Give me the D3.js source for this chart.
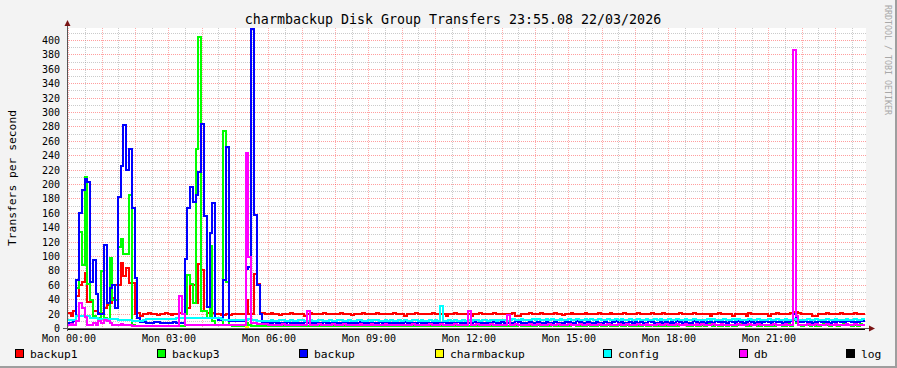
<!DOCTYPE html>
<html><head><meta charset="utf-8">
<script src="https://cdn.jsdelivr.net/npm/d3@7"></script>
<style>
html,body{margin:0;padding:0;background:#f3f3f3;}
svg{display:block;}
text{font-family:"DejaVu Sans Mono",monospace;}
</style></head><body>
<svg id="chart" width="897" height="368"></svg>
<script>
// ---------- data ----------
const title = "charmbackup Disk Group Transfers 23:55.08 22/03/2026";
const yAxisTitle = "Transfers per second";
const watermark = "RRDTOOL / TOBI OETIKER";
const seriesNames = ["backup1","backup3","backup","charmbackup","config","db","log"];
const yTickValues = [0,20,40,60,80,100,120,140,160,180,200,220,240,260,280,300,320,340,360,380,400];
const xTickHours = [0,3,6,9,12,15,18,21];
const xTickLabels = ["Mon 00:00","Mon 03:00","Mon 06:00","Mon 09:00","Mon 12:00","Mon 15:00","Mon 18:00","Mon 21:00"];
const stepMinutes = 5;          // one sample per 5 minutes
const firstSampleMinute = -2;   // first sample starts just before 00:00

const backup1 = [
 21,18,24,45,60,64,77,37,37,25,24,21,
 22,28,32,36,42,60,60,91,73,84,63,63,
 20,21,18,20,20,21,20,20,19,20,20,21,
 20,19,20,20,21,20,20,28,60,60,35,89,
 81,25,22,21,22,20,20,19,19,20,19,20,
 20,20,20,20,40,20,20,76,62,22,21,20,
 20,21,20,20,19,20,20,20,21,20,20,20,
 20,17,20,21,20,20,20,20,21,20,20,20,
 20,20,21,20,20,20,19,20,20,20,21,20,
 20,20,20,21,20,20,20,20,20,21,20,20,
 20,17,20,20,20,21,20,20,20,20,20,21,
 20,20,20,20,17,20,20,21,20,20,20,20,
 20,17,20,20,21,20,20,20,20,21,20,20,
 20,20,20,20,21,17,18,20,20,20,21,20,
 20,20,21,20,20,20,20,21,20,20,19,20,
 20,21,20,20,20,20,21,20,20,20,20,21,
 20,20,20,21,20,20,20,20,21,20,20,20,
 20,21,20,20,20,20,21,20,20,20,21,20,
 20,20,20,20,21,20,20,20,20,21,20,20,
 20,20,20,17,20,20,21,20,20,20,20,17,
 20,20,20,20,17,21,20,20,20,20,20,20,
 17,20,20,21,20,20,20,20,22,23,23,21,
 20,20,20,20,17,18,20,20,20,21,20,20,
 20,20,21,20,20,20,20,21,20,20,20
];
const backup3 = [
 5,5,5,56,134,88,211,62,40,17,15,15,
 80,15,12,98,40,40,113,124,103,103,185,5,
 4,3,3,3,4,3,3,3,3,3,4,3,
 3,3,3,3,4,3,20,74,62,36,250,405,
 25,25,15,114,10,5,5,5,275,65,5,4,
 4,3,3,3,8,5,4,3,3,3,3,3,
 3,3,4,3,3,3,3,4,3,3,3,3,
 3,4,3,3,3,3,3,3,4,3,3,3,
 3,3,3,3,4,3,3,3,3,3,4,3,
 3,3,4,3,3,3,3,3,3,4,3,3,
 3,3,3,3,3,4,3,3,3,3,3,4,
 3,3,4,3,3,3,3,3,4,3,3,3,
 3,3,3,3,4,3,3,3,3,3,3,4,
 3,4,3,3,3,3,5,4,3,3,3,3,
 4,5,4,3,3,4,5,4,3,4,3,4,
 4,5,5,4,3,4,4,5,4,3,4,5,
 4,4,5,4,3,4,5,4,4,5,4,4,
 5,4,4,5,4,4,5,4,4,5,4,4,
 4,5,4,4,5,6,5,4,4,5,4,4,
 5,4,6,6,4,5,4,4,5,4,5,4,
 4,5,6,5,4,4,5,6,4,4,5,4,
 4,5,4,5,5,4,4,6,4,12,7,5,
 4,5,5,4,5,4,4,5,6,5,4,5,
 5,4,5,6,6,5,4,5,4,6,5
];
const backup = [
 8,8,10,68,160,192,208,204,65,95,48,20,
 20,116,36,56,60,28,183,226,282,220,249,167,
 70,15,9,9,8,8,8,9,9,8,8,8,
 8,8,9,8,8,8,97,167,196,176,185,218,
 284,156,30,132,175,15,12,12,67,252,10,10,
 10,10,10,10,82,86,416,157,60,20,8,8,
 8,8,9,8,8,8,8,9,8,8,8,8,
 8,9,8,8,8,8,8,8,9,8,8,8,
 8,8,8,9,8,8,8,8,8,9,8,8,
 8,8,8,8,9,8,8,8,8,8,9,8,
 8,9,8,8,8,8,9,8,8,8,8,8,
 8,8,8,9,8,8,8,8,9,8,8,8,
 8,8,9,8,8,8,8,8,8,9,8,8,
 9,8,8,8,8,10,9,8,8,8,9,8,
 8,9,8,8,9,8,8,9,8,8,8,9,
 9,8,8,10,9,8,8,9,8,8,9,8,
 8,9,8,8,9,10,8,9,8,8,9,8,
 9,8,9,8,8,10,9,8,8,9,8,9,
 8,9,8,10,9,8,9,8,8,10,9,8,
 9,8,9,9,8,10,9,8,9,8,10,9,
 8,10,9,8,9,11,9,8,9,8,9,10,
 9,8,11,9,9,8,10,9,10,20,10,9,
 9,10,9,9,8,9,10,9,9,9,8,9,
 9,10,9,9,11,10,9,9,9,11,10
];
const charmbackup = [
 0,0,0,0,0,0,0,0,0,0,0,0,
 0,0,0,0,0,0,0,0,0,0,0,0,
 0,0,0,0,0,0,0,0,0,0,0,0,
 0,0,0,0,0,0,0,0,0,0,0,0,
 0,0,0,0,0,0,0,0,0,0,0,0,
 0,0,0,0,2,0,0,0,0,0,0,0,
 0,0,0,0,0,0,0,0,0,0,0,0,
 0,0,0,0,0,0,0,0,0,0,0,0,
 0,0,0,0,0,0,0,0,0,0,0,0,
 0,0,0,0,0,0,0,0,0,0,0,0,
 0,0,0,0,0,0,0,0,0,0,0,0,
 0,0,0,0,0,0,0,0,0,0,0,0,
 0,0,0,0,0,0,0,0,0,0,0,0,
 0,0,0,0,0,0,0,0,0,0,0,0,
 0,0,0,0,0,0,0,0,0,0,0,0,
 0,0,0,0,0,0,0,0,0,0,0,0,
 0,0,0,0,0,0,0,0,0,0,0,0,
 0,0,0,0,0,0,0,0,0,0,0,0,
 0,0,0,0,0,0,0,0,0,0,0,0,
 0,0,0,0,0,0,0,0,0,0,0,0,
 0,0,0,0,0,0,0,0,0,0,0,0,
 0,0,0,0,0,0,0,0,0,0,0,0,
 0,0,0,0,0,0,0,0,0,0,0,0,
 0,0,0,0,0,0,0,0,0,0,0
];
const config = [
 12,12,12,17,17,17,17,17,14,14,14,13,
 13,13,13,13,13,13,12,12,12,12,12,10,
 10,10,10,12,13,13,13,13,13,13,13,13,
 13,13,13,14,15,15,15,15,15,15,15,14,
 14,14,14,14,14,14,14,13,12,12,12,12,
 12,12,12,12,12,13,12,12,11,11,11,11,
 11,12,11,11,12,12,11,11,12,11,11,12,
 12,11,11,12,11,11,12,12,11,11,12,11,
 11,12,12,11,11,12,11,11,12,12,11,11,
 12,11,12,12,11,11,12,11,12,11,11,12,
 11,12,11,11,12,12,11,12,11,11,12,11,
 12,11,31,11,11,12,11,12,11,11,12,11,
 12,11,12,12,11,12,12,11,12,12,11,12,
 12,12,11,12,13,12,12,13,12,12,12,13,
 12,13,12,12,13,12,13,12,12,13,12,12,
 13,12,12,13,12,12,13,12,13,12,12,13,
 12,12,13,12,12,13,12,13,12,12,13,12,
 12,13,12,12,13,12,12,13,12,13,12,12,
 13,12,12,13,12,12,13,12,12,13,12,12,
 12,12,13,12,13,12,12,12,13,12,12,13,
 12,13,12,12,12,13,12,12,13,12,12,12,
 13,12,12,13,12,12,13,12,12,13,12,12,
 12,12,13,12,12,13,12,12,12,13,12,12,
 13,12,12,12,13,12,12,13,12,12,13
];
const db = [
 5,6,5,10,35,28,16,5,5,8,5,10,
 8,12,10,8,5,5,5,6,5,5,5,4,
 4,4,4,4,4,4,4,4,4,4,4,4,
 4,4,4,4,45,20,5,5,5,5,5,5,
 5,5,5,5,5,5,5,5,5,5,5,5,
 5,5,5,5,244,100,8,8,6,6,6,6,
 5,5,5,5,5,6,5,5,5,5,5,5,
 5,5,24,5,5,5,6,5,5,5,5,6,
 5,5,5,6,5,5,5,5,5,6,5,5,
 5,6,5,5,5,5,6,5,5,5,5,5,
 5,5,5,5,6,5,5,5,5,5,6,5,
 5,5,6,5,5,5,5,6,5,5,5,5,
 24,5,5,6,5,5,5,5,6,5,5,5,
 5,5,19,5,5,6,5,5,5,5,6,5,
 5,6,5,5,5,6,5,5,6,5,5,5,
 6,5,5,5,6,5,5,6,5,5,5,6,
 5,5,6,5,5,5,6,5,5,6,5,5,
 5,6,5,5,6,5,5,5,6,5,5,6,
 5,5,5,6,5,5,6,5,5,5,6,5,
 6,5,5,5,6,5,5,6,5,5,5,5,
 5,6,5,5,5,6,5,5,6,5,5,5,
 5,5,6,5,5,5,6,5,5,387,18,5,
 5,5,6,5,5,6,5,5,5,6,5,5,
 6,5,5,5,6,5,5,6,5,5,5
];
const log = [
 0,0,0,0,0,0,0,0,0,0,0,0,
 0,0,0,0,0,0,0,0,0,0,0,0,
 0,0,0,0,0,0,0,0,0,0,0,0,
 0,0,0,0,0,0,0,0,0,0,0,0,
 0,0,0,0,0,0,0,0,0,0,0,0,
 0,0,0,0,0,0,0,0,0,0,0,0,
 0,0,0,0,0,0,0,0,0,0,0,0,
 0,0,0,0,0,0,0,0,0,0,0,0,
 0,0,0,0,0,0,0,0,0,0,0,0,
 0,0,0,0,0,0,0,0,0,0,0,0,
 0,0,0,0,0,0,0,0,0,0,0,0,
 0,0,0,0,0,0,0,0,0,0,0,0,
 0,0,0,0,0,0,0,0,0,0,0,0,
 0,0,0,0,0,0,0,0,0,0,0,0,
 0,0,0,0,0,0,0,0,0,0,0,0,
 0,0,0,0,0,0,0,0,0,0,0,0,
 0,0,0,0,0,0,0,0,0,0,0,0,
 0,0,0,0,0,0,0,0,0,0,0,0,
 0,0,0,0,0,0,0,0,0,0,0,0,
 0,0,0,0,0,0,0,0,0,0,0,0,
 0,0,0,0,0,0,0,0,0,0,0,0,
 0,0,0,0,0,0,0,0,0,0,0,0,
 0,0,0,0,0,0,0,0,0,0,0,0,
 0,0,0,0,0,0,0,0,0,0,0
];
const seriesValues = [backup1, backup3, backup, charmbackup, config, db, log];

// ---------- styles ----------
const seriesColors = ["#ff0000","#00ff00","#0000ff","#ffff00","#00ffff","#ff00ff","#000000"];
const legendX = [15,157,299,435,603,739,846];

// ---------- drawing ----------
const svg = d3.select("#chart");
const W = 897, H = 368;
const plotL = 67, plotR = 866, plotT = 28, plotB = 328;

svg.append("rect").attr("width",W).attr("height",H).attr("fill","#f3f3f3");
svg.append("rect").attr("x",0).attr("y",H-2).attr("width",W).attr("height",2).attr("fill","#9e9e9e");
svg.append("rect").attr("x",W-2).attr("y",0).attr("width",2).attr("height",H).attr("fill","#9e9e9e");

const x = d3.scaleLinear().domain([-5, 1435]).range([66.2, 866.2]);
const y = d3.scaleLinear().domain([0, 400]).range([328.5, 40.5]);
const snap = v => Math.round(v - 0.5) + 0.5;

svg.append("rect").attr("x",plotL).attr("y",plotT).attr("width",plotR-plotL).attr("height",plotB-plotT+1).attr("fill","#ffffff");

const grid = svg.append("g");
for (let v = 10; v <= 410; v += 10) {
  const major = v % 20 === 0;
  grid.append("line").attr("x1",plotL).attr("x2",plotR).attr("y1",snap(y(v))).attr("y2",snap(y(v)))
    .attr("stroke", major ? "rgba(255,0,0,0.38)" : "rgba(140,140,140,0.45)")
    .attr("stroke-width",1).attr("stroke-dasharray","1,1").attr("shape-rendering","crispEdges");
}
for (let m = 0; m <= 1410; m += 30) {
  const major = m % 60 === 0;
  grid.append("line").attr("x1",snap(x(m))).attr("x2",snap(x(m))).attr("y1",plotT).attr("y2",plotB)
    .attr("stroke", major ? "rgba(255,0,0,0.33)" : "rgba(140,140,140,0.45)")
    .attr("stroke-width",1).attr("stroke-dasharray","1,1").attr("shape-rendering","crispEdges");
}

svg.append("g").selectAll("text").data(yTickValues).join("text")
  .attr("x",60).attr("y",d=>snap(y(d))).attr("dy","0.34em").attr("text-anchor","end")
  .attr("font-size","10px").attr("fill","#000").text(d=>d);
svg.append("g").selectAll("text").data(xTickHours).join("text")
  .attr("x",(d)=>x(d*60)).attr("y",341.5).attr("text-anchor","middle")
  .attr("font-size","10px").attr("fill","#000").text((d,i)=>xTickLabels[i]);

svg.append("clipPath").attr("id","clip").append("rect")
  .attr("x",plotL).attr("y",plotT-2).attr("width",plotR-plotL).attr("height",plotB-plotT+4);
const lineGen = d3.line().x(d=>d[0]).y(d=>d[1]).curve(d3.curveStepAfter);
const lines = svg.append("g").attr("clip-path","url(#clip)");
seriesValues.forEach((vals, k) => {
  const pts = vals.map((v,i)=>[x(firstSampleMinute + i*stepMinutes), y(v)]);
  pts.push([x(firstSampleMinute + vals.length*stepMinutes), y(vals[vals.length-1])]);
  lines.append("path").attr("d", lineGen(pts)).attr("fill","none")
    .attr("stroke", seriesColors[k]).attr("stroke-width",2)
    .attr("stroke-linejoin","miter").attr("shape-rendering","crispEdges");
});

svg.append("line").attr("x1",67.5).attr("x2",67.5).attr("y1",331).attr("y2",24).attr("stroke","#555").attr("stroke-width",1);
svg.append("line").attr("x1",63).attr("x2",870).attr("y1",328.5).attr("y2",328.5).attr("stroke","#555").attr("stroke-width",1);
svg.append("path").attr("d","M64.5,26 L70.5,26 L67.5,20 Z").attr("fill","#7a1414");
svg.append("path").attr("d","M869,325.5 L869,331.5 L875,328.5 Z").attr("fill","#7a1414");

svg.append("text").attr("x",453).attr("y",24).attr("text-anchor","middle")
  .attr("font-size","13.3px").attr("fill","#000").text(title);
svg.append("text").attr("transform","translate(15.5,178) rotate(-90)").attr("text-anchor","middle")
  .attr("font-size","11.3px").attr("fill","#000").text(yAxisTitle);
svg.append("text").attr("transform","translate(885,5) rotate(90)").attr("text-anchor","start")
  .attr("font-size","8.3px").attr("fill","#a8a8a8").text(watermark);

const leg = svg.append("g");
seriesNames.forEach((n,k)=>{
  leg.append("rect").attr("x",legendX[k]+0.5).attr("y",349.5).attr("width",8).attr("height",8)
    .attr("fill",seriesColors[k]).attr("stroke","#000").attr("stroke-width",1);
  leg.append("text").attr("x",legendX[k]+15).attr("y",357.5).attr("font-size","11.3px").attr("fill","#000").text(n);
});
</script>
</body></html>
